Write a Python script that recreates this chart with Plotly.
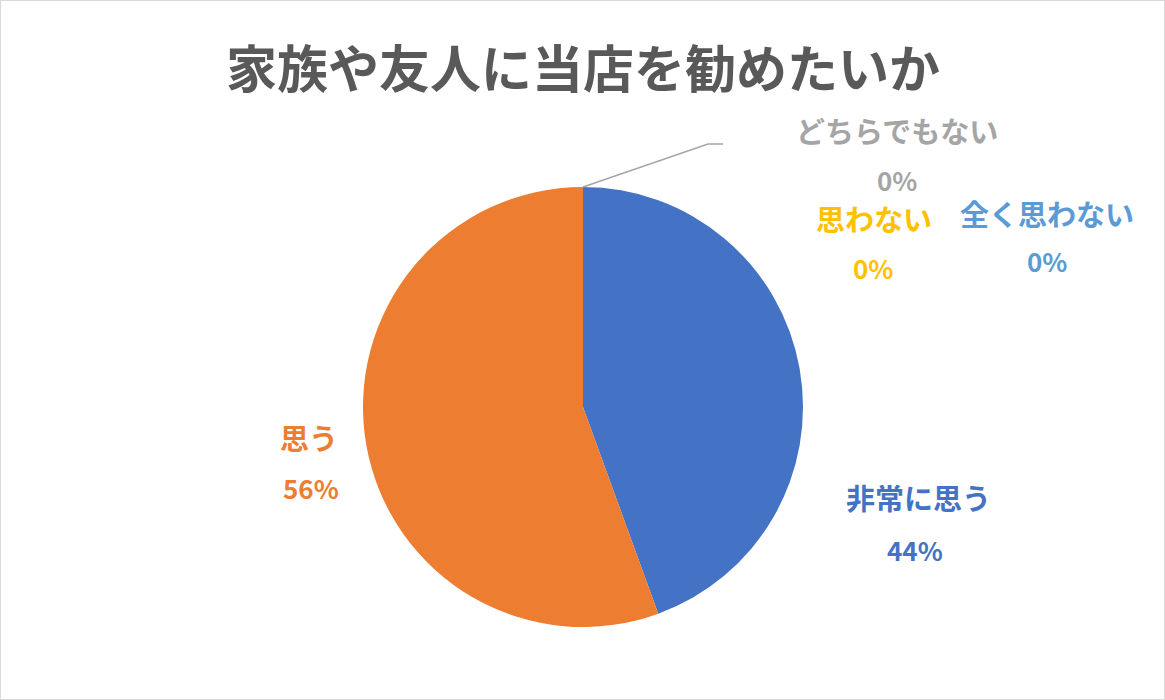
import plotly.graph_objects as go

title = "家族や友人に当店を勧めたいか"
labels = ["非常に思う", "思う", "どちらでもない", "思わない", "全く思わない"]
counts = [4, 5, 0, 0, 0]
colors = ["#4472C4", "#ED7D31", "#A5A5A5", "#FFC000", "#5B9BD5"]

W, H = 1165, 700
# pixel centres of the outside data labels (name, percent), Excel style
name_px = [(918, 497), (309, 437), (897, 130), (874, 218), (1047, 213)]
pct_px = [(915, 549), (311, 487), (897, 179), (873, 268), (1047, 260)]

total = sum(counts)

fig = go.Figure(go.Pie(
    labels=labels,
    values=counts,
    marker=dict(colors=colors, line=dict(width=0)),
    sort=False,
    direction="clockwise",
    rotation=0,
    textinfo="none",
    hoverinfo="label+percent",
    showlegend=False,
    domain=dict(x=[(583 - 220) / W, (583 + 220) / W], y=[1 - 627 / H, 1 - 187 / H]),
))

font_family = "Noto Sans CJK JP"
annotations = [dict(
    text="<b>" + title + "</b>", x=583 / W, y=1 - 66 / H, xref="paper", yref="paper",
    xanchor="center", yanchor="middle", showarrow=False,
    font=dict(family=font_family, size=51, color="#595959"),
)]
for lab, c, col, (nx, ny), (qx, qy) in zip(labels, counts, colors, name_px, pct_px):
    annotations.append(dict(
        text=f"<b>{lab}</b>", x=nx / W, y=1 - ny / H, xref="paper", yref="paper",
        xanchor="center", yanchor="middle", showarrow=False, borderpad=0,
        font=dict(family=font_family, size=29, color=col),
    ))
    annotations.append(dict(
        text=f"<b>{c / total:.0%}</b>", x=qx / W, y=1 - qy / H, xref="paper", yref="paper",
        xanchor="center", yanchor="middle", showarrow=False, borderpad=0,
        font=dict(family=font_family, size=26, color=col),
    ))

shapes = [
    # chart border
    dict(type="rect", xref="paper", yref="paper", x0=0, y0=0, x1=1, y1=1,
         line=dict(color="#D9D9D9", width=2)),
    # leader line for どちらでもない
    dict(type="path", xref="paper", yref="paper",
         path=f"M {583 / W},{1 - 187 / H} L {708 / W},{1 - 144 / H} L {723 / W},{1 - 144 / H}",
         line=dict(color="#A5A5A5", width=1.5)),
]

fig.update_layout(
    width=W, height=H,
    margin=dict(l=0, r=0, t=0, b=0),
    paper_bgcolor="white",
    plot_bgcolor="white",
    annotations=annotations,
    shapes=shapes,
)

fig.write_html("out.html", config={"displayModeBar": False},
               post_script="document.body.style.margin='0';")
